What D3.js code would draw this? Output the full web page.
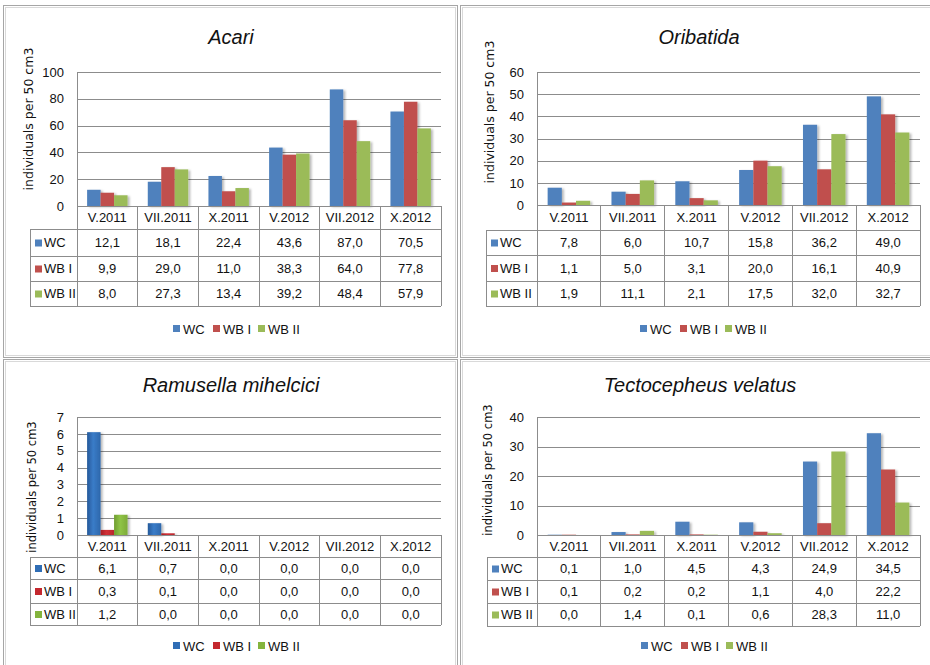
<!DOCTYPE html>
<html><head><meta charset="utf-8">
<script src="https://cdn.jsdelivr.net/npm/d3@7"></script>
<style>body{margin:0;background:#fff}svg{display:block}</style>
</head><body><svg id="c" width="930" height="665"></svg>
<script>
const categories = ["V.2011","VII.2011","X.2011","V.2012","VII.2012","X.2012"];
const seriesNames = ["WC","WB I","WB II"];
const acariWC   = [12.1, 18.1, 22.4, 43.6, 87.0, 70.5];
const acariWBI  = [9.9, 29.0, 11.0, 38.3, 64.0, 77.8];
const acariWBII = [8.0, 27.3, 13.4, 39.2, 48.4, 57.9];
const oribatidaWC   = [7.8, 6.0, 10.7, 15.8, 36.2, 49.0];
const oribatidaWBI  = [1.1, 5.0, 3.1, 20.0, 16.1, 40.9];
const oribatidaWBII = [1.9, 11.1, 2.1, 17.5, 32.0, 32.7];
const ramusellaWC   = [6.1, 0.7, 0.0, 0.0, 0.0, 0.0];
const ramusellaWBI  = [0.3, 0.1, 0.0, 0.0, 0.0, 0.0];
const ramusellaWBII = [1.2, 0.0, 0.0, 0.0, 0.0, 0.0];
const tectoWC   = [0.1, 1.0, 4.5, 4.3, 24.9, 34.5];
const tectoWBI  = [0.1, 0.2, 0.2, 1.1, 4.0, 22.2];
const tectoWBII = [0.0, 1.4, 0.1, 0.6, 28.3, 11.0];
const acariTicks = [0, 20, 40, 60, 80, 100];
const oribatidaTicks = [0, 10, 20, 30, 40, 50, 60];
const ramusellaTicks = [0, 1, 2, 3, 4, 5, 6, 7];
const tectoTicks = [0, 10, 20, 30, 40];
const titles = ["Acari", "Oribatida", "Ramusella mihelcici", "Tectocepheus velatus"];
const yLabel = "individuals per 50 cm3";

const svg = d3.select("#c");
const defs = svg.append("defs");
const f = defs.append("filter").attr("id","sh").attr("x","-20%").attr("y","-10%").attr("width","160%").attr("height","130%");
f.append("feDropShadow").attr("dx",2).attr("dy",1).attr("stdDeviation",1).attr("flood-color","#000").attr("flood-opacity",0.28);

const stdColors = ["#4f81bd","#c0504d","#9bbb59"];
const ramColors = [["#24599a","#3a7cc8","#2d67ab"],["#a51f24","#d23037","#b8262c"],["#6f9d2f","#8fc446","#7eab38"]];
ramColors.forEach((c,i)=>{
  const g = defs.append("linearGradient").attr("id","rg"+i).attr("x1","0").attr("x2","1").attr("y1","0").attr("y2","0");
  g.append("stop").attr("offset","0").attr("stop-color",c[0]);
  g.append("stop").attr("offset","0.45").attr("stop-color",c[1]);
  g.append("stop").attr("offset","1").attr("stop-color",c[2]);
});
const ramLegend = ["#2f6db5","#c4282e","#84b43d"];

const fmt = v => d3.format(".1f")(v).replace(".", ",");
const FONT = "'Liberation Sans', Arial, sans-serif";
const FS = 13;

const panels = [
  {title: titles[0], series:[acariWC,acariWBI,acariWBII], ticks: acariTicks,
   frame:[3.5,5.5,454,352], left:77, right:441, top:72, zero:206, rows:[229,256,281,306], tableLeft:30,
   titleX:231, titleY:44, labelX:33, labelY:119, labelSize:12.5, legendY:329, legendX:234, ram:false},
  {title: titles[1], series:[oribatidaWC,oribatidaWBI,oribatidaWBII], ticks: oribatidaTicks,
   frame:[460.5,5.5,480,352], left:537, right:920, top:72, zero:205, rows:[230,255,281,306], tableLeft:486,
   titleX:699, titleY:44, labelX:494, labelY:112, labelSize:12.5, legendY:329, legendX:701, ram:false},
  {title: titles[2], series:[ramusellaWC,ramusellaWBI,ramusellaWBII], ticks: ramusellaTicks,
   frame:[3.5,359.5,454,320], left:77, right:441, top:417, zero:535, rows:[557,579,603,625], tableLeft:30,
   titleX:231, titleY:392, labelX:36, labelY:487, labelSize:11.5, legendY:646, legendX:234, ram:true},
  {title: titles[3], series:[tectoWC,tectoWBI,tectoWBII], ticks: tectoTicks,
   frame:[460.5,359.5,480,320], left:537, right:920, top:417, zero:535, rows:[557,580,603,626], tableLeft:487,
   titleX:700, titleY:392, labelX:492, labelY:470, labelSize:11.5, legendY:646, legendX:702, ram:false}
];

panels.forEach(p => {
  const g = svg.append("g");
  const [fx,fy,fw,fh] = p.frame;
  g.append("rect").attr("x",fx).attr("y",fy).attr("width",fw).attr("height",fh)
    .attr("fill","#fff").attr("stroke","#a6a6a6");
  g.append("rect").attr("x",fx+2).attr("y",fy+2).attr("width",fw-4).attr("height",fh-4)
    .attr("fill","none").attr("stroke","#d9d9d9");

  g.append("text").attr("x",p.titleX).attr("y",p.titleY).attr("text-anchor","middle")
    .attr("font-family",FONT).attr("font-style","italic").attr("font-size",20).attr("fill","#111").text(p.title);

  g.append("text").attr("transform",`translate(${p.labelX},${p.labelY}) rotate(-90)`)
    .attr("text-anchor","middle").attr("font-family","'DejaVu Sans', sans-serif").attr("font-size",p.labelSize)
    .attr("fill","#111").text(yLabel);

  const y = d3.scaleLinear().domain([p.ticks[0], p.ticks[p.ticks.length-1]]).range([p.zero, p.top]);
  const x = d3.scaleBand().domain(categories).range([p.left, p.right]).paddingInner(1/3).paddingOuter(1/6);
  const xs = d3.scaleBand().domain(seriesNames).range([0, x.bandwidth()]);

  const ax = g.append("g").attr("transform",`translate(${p.left},0)`)
    .call(d3.axisLeft(y).tickValues(p.ticks).tickSize(-(p.right-p.left)).tickPadding(13).tickFormat(d3.format("d")));
  ax.select(".domain").remove();
  ax.selectAll(".tick line").attr("stroke","#8c8c8c").attr("shape-rendering","crispEdges");
  ax.selectAll(".tick text").attr("font-family",FONT).attr("font-size",FS).attr("fill","#111");

  const tableBottom = p.rows[3];
  g.append("line").attr("x1",p.left).attr("x2",p.left).attr("y1",p.top).attr("y2",tableBottom)
    .attr("stroke","#8c8c8c").attr("shape-rendering","crispEdges");

  seriesNames.forEach((s,si) => {
    g.append("g").selectAll("rect").data(p.series[si]).join("rect")
      .attr("x",(d,i)=>x(categories[i]) + xs(s))
      .attr("y",d=>y(d))
      .attr("width",xs.bandwidth())
      .attr("height",d=>p.zero - y(d))
      .attr("fill", p.ram ? `url(#rg${si})` : stdColors[si])
      .attr("filter", "url(#sh)");
  });

  const step = x.step();
  const bounds = categories.map((c,i)=>p.left + i*step).concat([p.right]);
  const line = (x1,y1,x2,y2) => g.append("line").attr("x1",x1).attr("y1",y1).attr("x2",x2).attr("y2",y2)
    .attr("stroke","#8c8c8c").attr("shape-rendering","crispEdges");
  line(p.left, p.zero, p.right, p.zero);
  p.rows.forEach(r => line(p.tableLeft, r, p.right, r));
  line(p.tableLeft, p.rows[0], p.tableLeft, tableBottom);
  bounds.forEach(b => line(b, p.zero, b, tableBottom));

  g.append("g").selectAll("text").data(categories).join("text")
    .attr("x",c=>x(c)+x.bandwidth()/2).attr("y",(p.zero+p.rows[0])/2+4.5)
    .attr("text-anchor","middle").attr("font-family",FONT).attr("font-size",FS).attr("fill","#111").text(c=>c);

  seriesNames.forEach((s,si) => {
    const top = p.rows[si], bot = p.rows[si+1];
    const cy = (top+bot)/2;
    g.append("g").selectAll("text").data(p.series[si]).join("text")
      .attr("x",(d,i)=>x(categories[i])+x.bandwidth()/2).attr("y",cy+4.5)
      .attr("text-anchor","middle").attr("font-family",FONT).attr("font-size",FS).attr("fill","#111").text(fmt);
    g.append("rect").attr("x",p.tableLeft+5).attr("y",cy-3).attr("width",7).attr("height",7)
      .attr("fill", p.ram ? ramLegend[si] : stdColors[si]);
    g.append("text").attr("x",p.tableLeft+14).attr("y",cy+4.5).attr("font-family",FONT).attr("font-size",FS)
      .attr("fill","#111").text(s);
  });

  const itemX = [0, 40, 85];
  const lg = g.append("g").attr("transform",`translate(${p.legendX-61},${p.legendY})`);
  seriesNames.forEach((s,si) => {
    lg.append("rect").attr("x",itemX[si]).attr("y",-4).attr("width",7).attr("height",7)
      .attr("fill", p.ram ? ramLegend[si] : stdColors[si]);
    lg.append("text").attr("x",itemX[si]+10).attr("y",4.5).attr("font-family",FONT).attr("font-size",FS)
      .attr("fill","#111").text(s);
  });
});
</script></body></html>
